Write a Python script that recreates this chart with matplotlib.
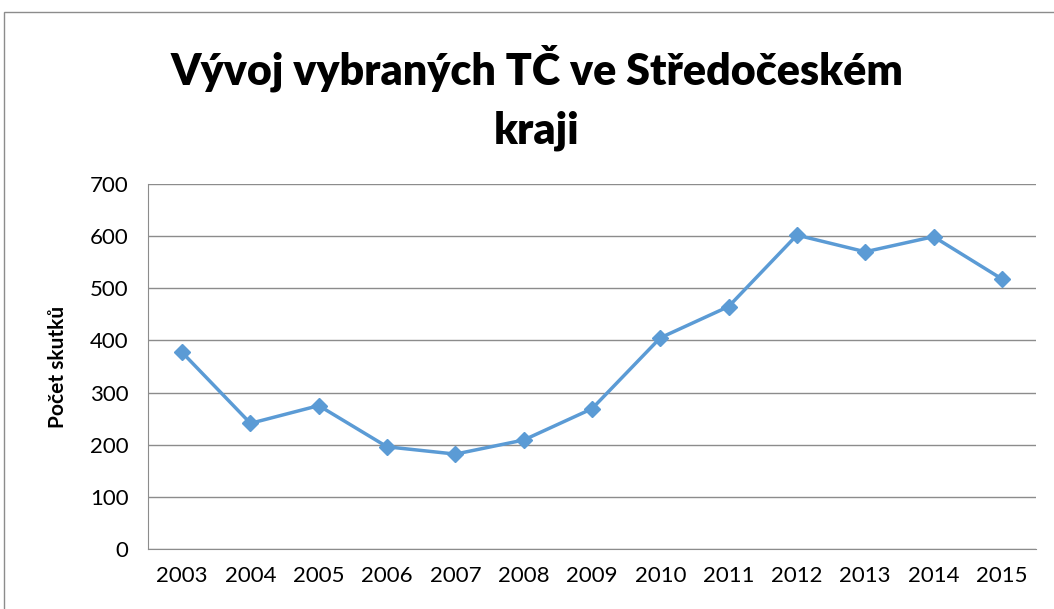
import matplotlib.pyplot as plt
from matplotlib.patches import Rectangle

years = ['2003', '2004', '2005', '2006', '2007', '2008', '2009',
         '2010', '2011', '2012', '2013', '2014', '2015']
skutky = [377, 241, 275, 196, 182, 209, 269, 405, 465, 602, 570, 599, 518]

plt.rcParams['font.family'] = ['Lato', 'DejaVu Sans']

W, H = 1054, 609
fig = plt.figure(figsize=(W / 100, H / 100), dpi=100)
# chart border (Excel-like frame, cropped on right/bottom)
fig.patches.append(Rectangle((4 / W, -0.1), 1.2, 1 - 12 / H + 0.1,
                             transform=fig.transFigure, fill=False,
                             edgecolor='#8c8c8c', linewidth=1.0))

ax = fig.add_axes([148 / W, 1 - 549 / H, (1036 - 148) / W, (549 - 184) / H])
x = range(len(years))
ax.plot(x, skutky, color='#5B9BD5', linewidth=2.5, marker='D', markersize=8,
        zorder=3)

ax.set_xlim(-0.5, len(years) - 0.5)
ax.set_ylim(0, 700)
ax.set_yticks(range(0, 701, 100))
ax.set_xticks(list(x))
ax.set_xticklabels(years)
ax.grid(axis='y', color='#8c8c8c', linewidth=1)
ax.set_axisbelow(True)
for s in ['top', 'right']:
    ax.spines[s].set_visible(False)
for s in ['left', 'bottom']:
    ax.spines[s].set_color('#8c8c8c')
ax.tick_params(length=0, labelsize=16, pad=12)
ax.tick_params(axis='y', pad=14)
ax.set_ylabel('Počet skutků', fontsize=15, fontweight='bold', labelpad=16)

fig.text(537 / W, 1 - 98 / H, 'Vývoj vybraných TČ ve Středočeském\nkraji',
         ha='center', va='center', fontsize=31, fontweight='heavy',
         linespacing=1.55)

fig.savefig('out.png', dpi=100)
